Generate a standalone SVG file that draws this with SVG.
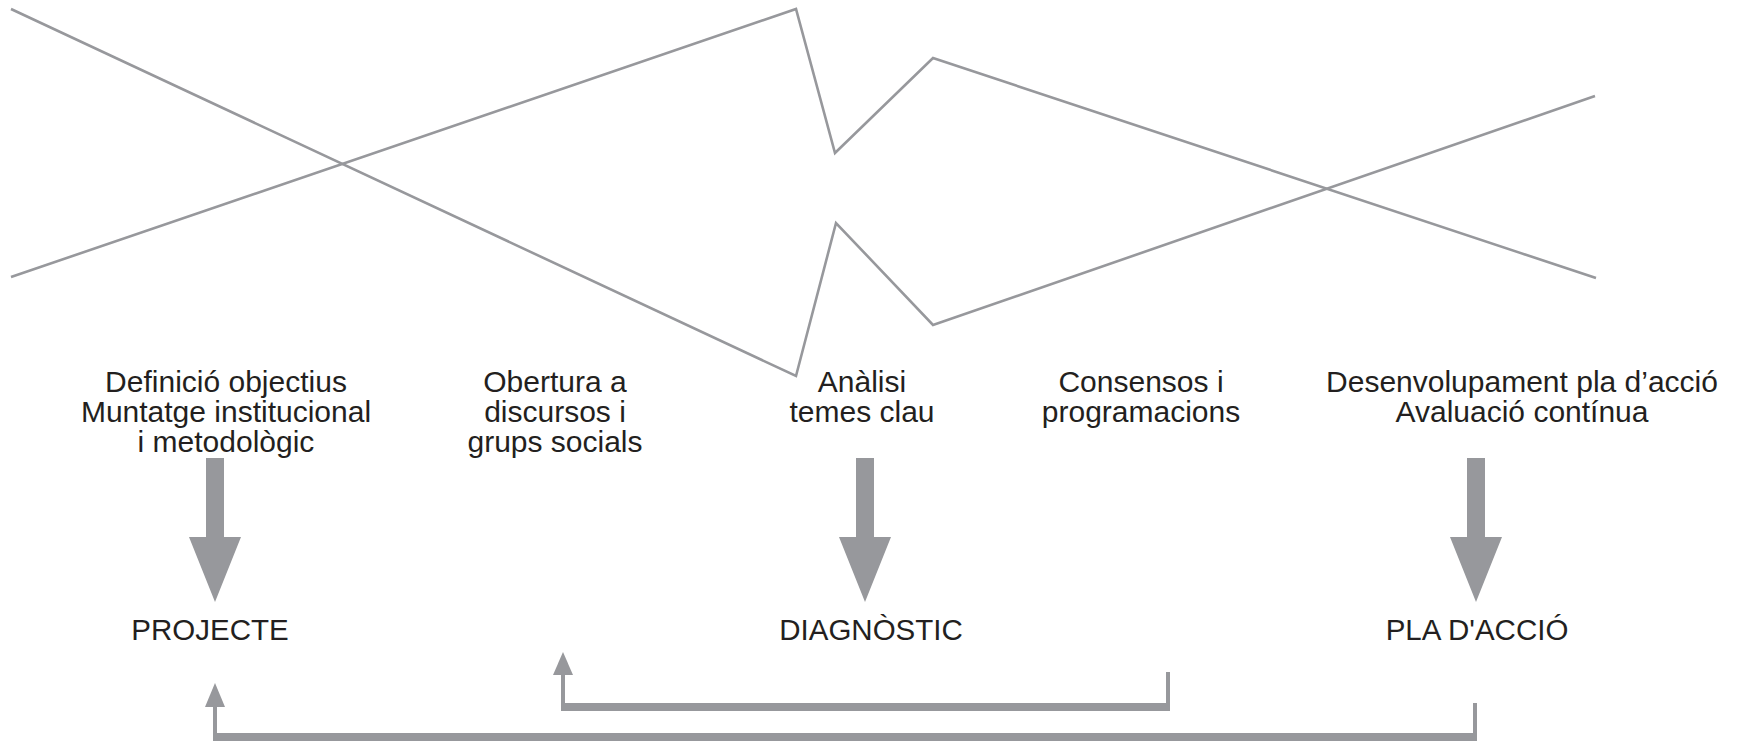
<svg xmlns="http://www.w3.org/2000/svg" width="1740" height="741" viewBox="0 0 1740 741">
<style>
.t{font-family:"Liberation Sans",Arial,Helvetica,sans-serif;font-size:30px;fill:#231f20;text-anchor:middle}
.lb{font-family:"Liberation Sans",Arial,Helvetica,sans-serif;font-size:29.5px;fill:#231f20;text-anchor:middle}
.zz{fill:none;stroke:#97989c;stroke-width:2.6;stroke-linejoin:miter}
.g{fill:#97989c}
.thin{stroke:#97989c;stroke-width:4;fill:none}
.thick{stroke:#97989c;stroke-width:8;fill:none}
</style>
<rect width="1740" height="741" fill="#ffffff"/>
<g id="zigzag">
<polyline class="zz" points="11,277 796,9 835,153 933,58 1596,278"/>
<polyline class="zz" points="11,9 796,376 836,223 933,325 1595,96"/>
</g>
<g id="step-definicio">
<text class="t" x="226" y="392">Definició objectius</text>
<text class="t" x="226" y="422">Muntatge institucional</text>
<text class="t" x="226" y="452">i metodològic</text>
</g>
<g id="step-obertura">
<text class="t" x="555" y="392">Obertura a</text>
<text class="t" x="555" y="422">discursos i</text>
<text class="t" x="555" y="452">grups socials</text>
</g>
<g id="step-analisi">
<text class="t" x="862" y="392">Anàlisi</text>
<text class="t" x="862" y="422">temes clau</text>
</g>
<g id="step-consensos">
<text class="t" x="1141" y="392">Consensos i</text>
<text class="t" x="1141" y="422">programacions</text>
</g>
<g id="step-desenvolupament">
<text class="t" x="1522" y="392">Desenvolupament pla d’acció</text>
<text class="t" x="1522" y="422">Avaluació contínua</text>
</g>
<g id="projecte">
<text class="lb" x="210" y="640">PROJECTE</text>
</g>
<g id="diagnostic">
<text class="lb" x="871" y="640">DIAGNÒSTIC</text>
</g>
<g id="pla-accio">
<text class="lb" x="1477" y="640">PLA D'ACCIÓ</text>
</g>
<g id="connectors">
<path class="g" d="M206,458 H224 V537 H241 L215,602 L189,537 H206 Z"/>
<path class="g" d="M856,458 H874 V537 H891 L865,602 L839,537 H856 Z"/>
<path class="g" d="M1467,458 H1485 V537 H1502 L1476,602 L1450,537 H1467 Z"/>
<polyline class="thin" points="1168,672 1168,707"/>
<polyline class="thick" points="1170,707 562,707"/>
<line class="thin" x1="563" y1="711" x2="563" y2="672"/>
<polygon class="g" points="563,652 573,675 553,675"/>
<line class="thin" x1="1475" y1="703" x2="1475" y2="737"/>
<polyline class="thick" points="1477,737 214,737"/>
<line class="thin" x1="215" y1="741" x2="215" y2="703"/>
<polygon class="g" points="215,683 225,707 205,707"/>
</g>
</svg>
